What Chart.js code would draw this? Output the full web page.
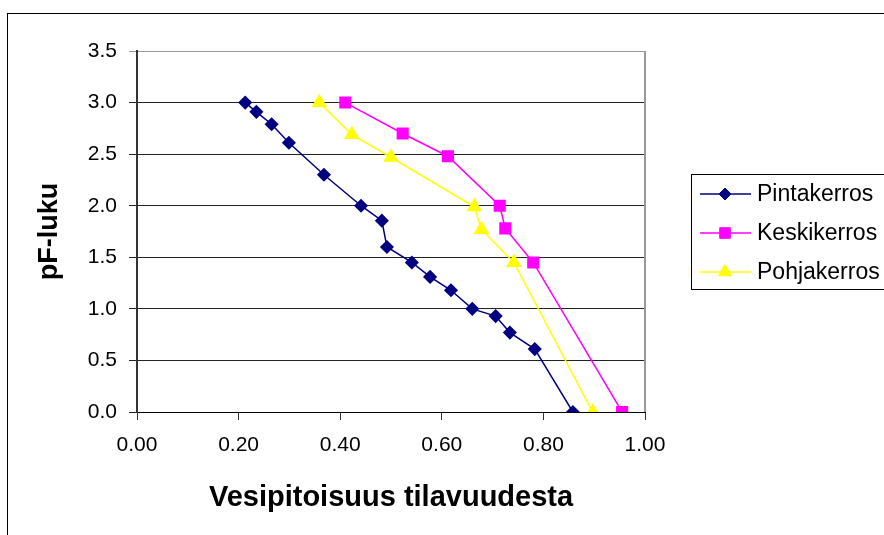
<!DOCTYPE html>
<html>
<head>
<meta charset="utf-8">
<script src="https://cdn.jsdelivr.net/npm/chart.js@4/dist/chart.umd.min.js"></script>
<style>
  html, body { margin: 0; padding: 0; background: #fff; }
  #wrap { width: 884px; height: 535px; }
</style>
</head>
<body>
<div id="wrap"><canvas id="chart"></canvas></div>
<script>
// pF curves, water content (volume fraction) vs pF
const seriesNames = ['Pintakerros', 'Keskikerros', 'Pohjakerros'];

const pintaX = [0.213, 0.235, 0.265, 0.299, 0.368, 0.441, 0.482, 0.492, 0.541, 0.577, 0.618, 0.660, 0.706, 0.734, 0.783, 0.858];
const pintaY = [3.0, 2.91, 2.79, 2.61, 2.30, 2.00, 1.855, 1.60, 1.45, 1.31, 1.18, 1.00, 0.93, 0.77, 0.61, 0.0];

const keskiX = [0.410, 0.523, 0.612, 0.714, 0.725, 0.780, 0.955];
const keskiY = [3.0, 2.70, 2.48, 2.00, 1.78, 1.45, 0.0];

const pohjaX = [0.359, 0.423, 0.500, 0.664, 0.678, 0.742, 0.897];
const pohjaY = [3.0, 2.69, 2.47, 1.99, 1.77, 1.45, 0.0];

const xTicks = [0, 0.2, 0.4, 0.6, 0.8, 1.0];
const yTicks = [0, 0.5, 1.0, 1.5, 2.0, 2.5, 3.0, 3.5];

const FONT = '"Liberation Sans", Arial, sans-serif';

function toPoints(xs, ys) {
  return xs.map((x, i) => ({ x: x, y: ys[i] }));
}

// frame, plot border and legend box like the Excel original
const decorPlugin = {
  id: 'decor',
  beforeDraw(chart) {
    const ctx = chart.ctx;
    ctx.save();
    ctx.fillStyle = '#fff';
    ctx.fillRect(0, 0, chart.width, chart.height);
    ctx.restore();
  },
  afterDraw(chart) {
    const ctx = chart.ctx;
    const area = chart.chartArea;
    ctx.save();
    // right plot border
    ctx.strokeStyle = '#999';
    ctx.lineWidth = 2;
    ctx.beginPath();
    ctx.moveTo(area.right, area.top);
    ctx.lineTo(area.right, area.bottom);
    ctx.stroke();

    // outer chart frame (cropped on right and bottom)
    ctx.strokeStyle = '#000';
    ctx.lineWidth = 1;
    ctx.strokeRect(7.5, 13.5, 1000, 1000);

    // legend
    ctx.strokeStyle = '#000';
    ctx.strokeRect(691.5, 174.5, 300, 115);
    const rows = [194, 233, 272];
    chart.data.datasets.forEach((ds, i) => {
      const y = rows[i];
      ctx.strokeStyle = ds.borderColor;
      ctx.lineWidth = 1.5;
      ctx.beginPath();
      ctx.moveTo(700, y);
      ctx.lineTo(751, y);
      ctx.stroke();
      ctx.fillStyle = ds.pointBackgroundColor;
      ctx.strokeStyle = ds.pointBorderColor;
      ctx.lineWidth = 1;
      Chart.helpers.drawPoint(ctx, {
        pointStyle: ds.pointStyle,
        radius: ds.pointRadius,
        rotation: 0,
        borderWidth: 1
      }, 725, y);
      ctx.fillStyle = '#000';
      ctx.font = '23px ' + FONT;
      ctx.textAlign = 'left';
      ctx.textBaseline = 'middle';
      ctx.fillText(ds.label, 757, y + 1);
    });
    ctx.restore();
  }
};

const ctx = document.getElementById('chart').getContext('2d');

new Chart(ctx, {
  type: 'line',
  data: {
    datasets: [
      {
        label: seriesNames[0],
        data: toPoints(pintaX, pintaY),
        borderColor: '#000080',
        backgroundColor: '#000080',
        pointBackgroundColor: '#000080',
        pointBorderColor: '#000080',
        pointStyle: 'rectRot',
        pointRadius: 6,
        borderWidth: 1.5,
      },
      {
        label: seriesNames[1],
        data: toPoints(keskiX, keskiY),
        borderColor: '#ff00ff',
        backgroundColor: '#ff00ff',
        pointBackgroundColor: '#ff00ff',
        pointBorderColor: '#ff00ff',
        pointStyle: 'rect',
        pointRadius: 7.5,
        borderWidth: 1.5,
      },
      {
        label: seriesNames[2],
        data: toPoints(pohjaX, pohjaY),
        borderColor: '#ffff00',
        backgroundColor: '#ffff00',
        pointBackgroundColor: '#ffff00',
        pointBorderColor: '#ffff00',
        pointStyle: 'triangle',
        pointRadius: 7.5,
        borderWidth: 1.5,
      },
    ],
  },
  options: {
    responsive: true,
    maintainAspectRatio: false,
    animation: false,
    devicePixelRatio: 1,
    layout: {
      padding: { left: 0, top: 51, right: 239, bottom: 0 },
    },
    elements: {
      line: { tension: 0, fill: false },
    },
    scales: {
      x: {
        type: 'linear',
        min: 0,
        max: 1,
        afterBuildTicks: (scale) => { scale.ticks = xTicks.map(v => ({ value: v })); },
        afterFit: (scale) => { scale.height = 123; },
        ticks: {
          color: '#000',
          font: { family: FONT, size: 21 },
          padding: 13,
          callback: (v) => Number(v).toFixed(2),
        },
        grid: {
          drawOnChartArea: false,
          drawTicks: true,
          tickLength: 8,
          color: '#333',
        },
        border: { color: '#000', width: 1 },
        title: {
          display: true,
          text: 'Vesipitoisuus tilavuudesta',
          color: '#000',
          font: { family: FONT, size: 29, weight: 'bold' },
          padding: { top: 0, bottom: 20 },
        },
      },
      y: {
        type: 'linear',
        min: 0,
        max: 3.5,
        afterBuildTicks: (scale) => { scale.ticks = yTicks.map(v => ({ value: v })); },
        afterFit: (scale) => { scale.width = 137; },
        ticks: {
          color: '#000',
          font: { family: FONT, size: 21 },
          padding: 12,
          callback: (v) => Number(v).toFixed(1),
        },
        grid: {
          drawTicks: true,
          tickLength: 8,
          color: (c) => (c.tick && c.tick.value === 3.5 ? '#999' : '#222'),
        },
        border: { color: '#333', width: 2 },
        title: {
          display: true,
          text: 'pF-luku',
          color: '#000',
          font: { family: FONT, size: 27, weight: 'bold' },
          padding: { top: 33, bottom: 0 },
        },
      },
    },
    plugins: {
      legend: { display: false },
      tooltip: { enabled: false },
    },
  },
  plugins: [decorPlugin],
});
</script>
</body>
</html>
